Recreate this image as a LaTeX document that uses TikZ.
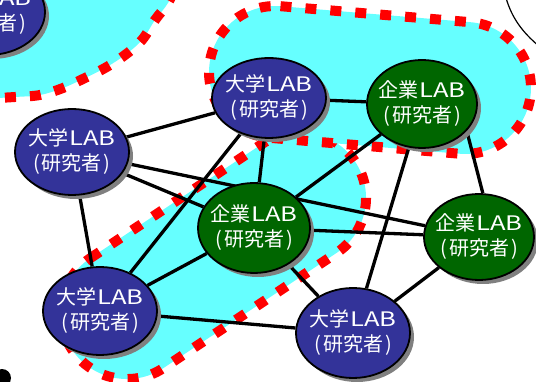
\documentclass[tikz,border=0pt]{standalone}
\usepackage{fontspec}
\setmainfont{Noto Sans CJK JP}
\usetikzlibrary{shapes.geometric,shadows}
\definecolor{univ}{HTML}{333399}
\definecolor{corp}{HTML}{006600}
\definecolor{blob}{HTML}{66FFFF}
\definecolor{shade}{HTML}{808080}
\pgfdeclarelayer{bg}
\pgfdeclarelayer{mid}
\pgfsetlayers{bg,mid,main}
\newcommand{\wideLab}{\kern1pt\scalebox{1.28}[1]{LAB}}
\newcommand{\uniText}{大学\wideLab\\(\kern2pt研究者\kern2pt)}
\newcommand{\corpText}{企業\wideLab\\(\kern2pt研究者\kern2pt)}
\begin{document}
\begin{tikzpicture}[x=1pt,y=-1pt,
  lab/.style={ellipse, draw=black, line width=1.8pt, text=white, align=center,
    inner xsep=-10pt, inner ysep=0pt, font=\fontsize{20}{25}\selectfont,
    drop shadow={shadow xshift=4pt, shadow yshift=-4pt, fill=shade, opacity=1}},
  uni/.style={lab, fill=univ, minimum width=114pt, minimum height=86pt},
  cor/.style={lab, fill=corp, minimum width=110pt, minimum height=88pt},
  link/.style={line width=3.3pt},
  zone/.style={fill=blob},
  zoneedge/.style={draw=red, line width=10pt, dash pattern=on 11pt off 14pt}]
\useasboundingbox (0,0) rectangle (536,382);
% zones
\begin{pgfonlayer}{bg}
  \fill[blob] plot[smooth, tension=0.6] coordinates {(-20,99) (15,97) (40,95) (63,88) (85,78) (105,68) (125,55) (142,40) (155,20) (168,3) (176,-15)} -- (-20,-15) -- cycle;
  \draw[zoneedge] plot[smooth, tension=0.6] coordinates {(-20,99) (15,97) (40,95) (63,88) (85,78) (105,68) (125,55) (142,40) (155,20) (168,3) (176,-15)};
  \path[zone, zoneedge] (90.5,258) -- (263.5,143) arc[start angle=-123.6, end angle=56.4, radius=66] -- (163.5,368) arc[start angle=56.4, end angle=236.4, radius=66] -- cycle;
  \path[zone, zoneedge] (280.5,6.2) -- (470.5,22.2) arc[start angle=-85.19, end angle=94.81, radius=66] -- (269.5,137.8) arc[start angle=94.81, end angle=274.81, radius=66] -- cycle;
\end{pgfonlayer}
% labs
\node[uni] (n1) at (-12,12) {\uniText};
\node[uni, minimum height=80pt] (n2) at (269,98) {\uniText};
\node[cor] (n3) at (422,104) {\corpText};
\node[uni] (n4) at (72,152) {\uniText};
\node[cor, minimum width=112pt, minimum height=90pt] (n5) at (254,228) {\corpText};
\node[cor, minimum height=86pt] (n6) at (479,237) {\corpText};
\node[uni, minimum height=88pt] (n7) at (100,311) {\uniText};
\node[uni, minimum height=90pt] (n8) at (353,333) {\uniText};
% links
\begin{pgfonlayer}{mid}
  \draw[link] (n4) -- (n2);
  \draw[link] (n4) -- (n6);
  \draw[link] (n4) -- (n5);
  \draw[link] (n4) -- (n7);
  \draw[link] (n2) -- (n3);
  \draw[link] (n2) -- (n5);
  \draw[link] (n2) -- (n7);
  \draw[link] (n3) -- (n5);
  \draw[link] (n3) -- (n8);
  \draw[link] (n3.-31) -- (n6.85);
  \draw[link] (n5) -- (n6);
  \draw[link] (n5) -- (n7);
  \draw[link] (n5) -- (n8);
  \draw[link] (n7) -- (n8);
  \draw[link] (n8) -- (n6);
\end{pgfonlayer}
% outside marks
\draw[line width=1.2pt] (506,-2) .. controls (512,18) and (522,32) .. (540,47);
\fill (2,378) circle[radius=9];
\end{tikzpicture}
\end{document}
